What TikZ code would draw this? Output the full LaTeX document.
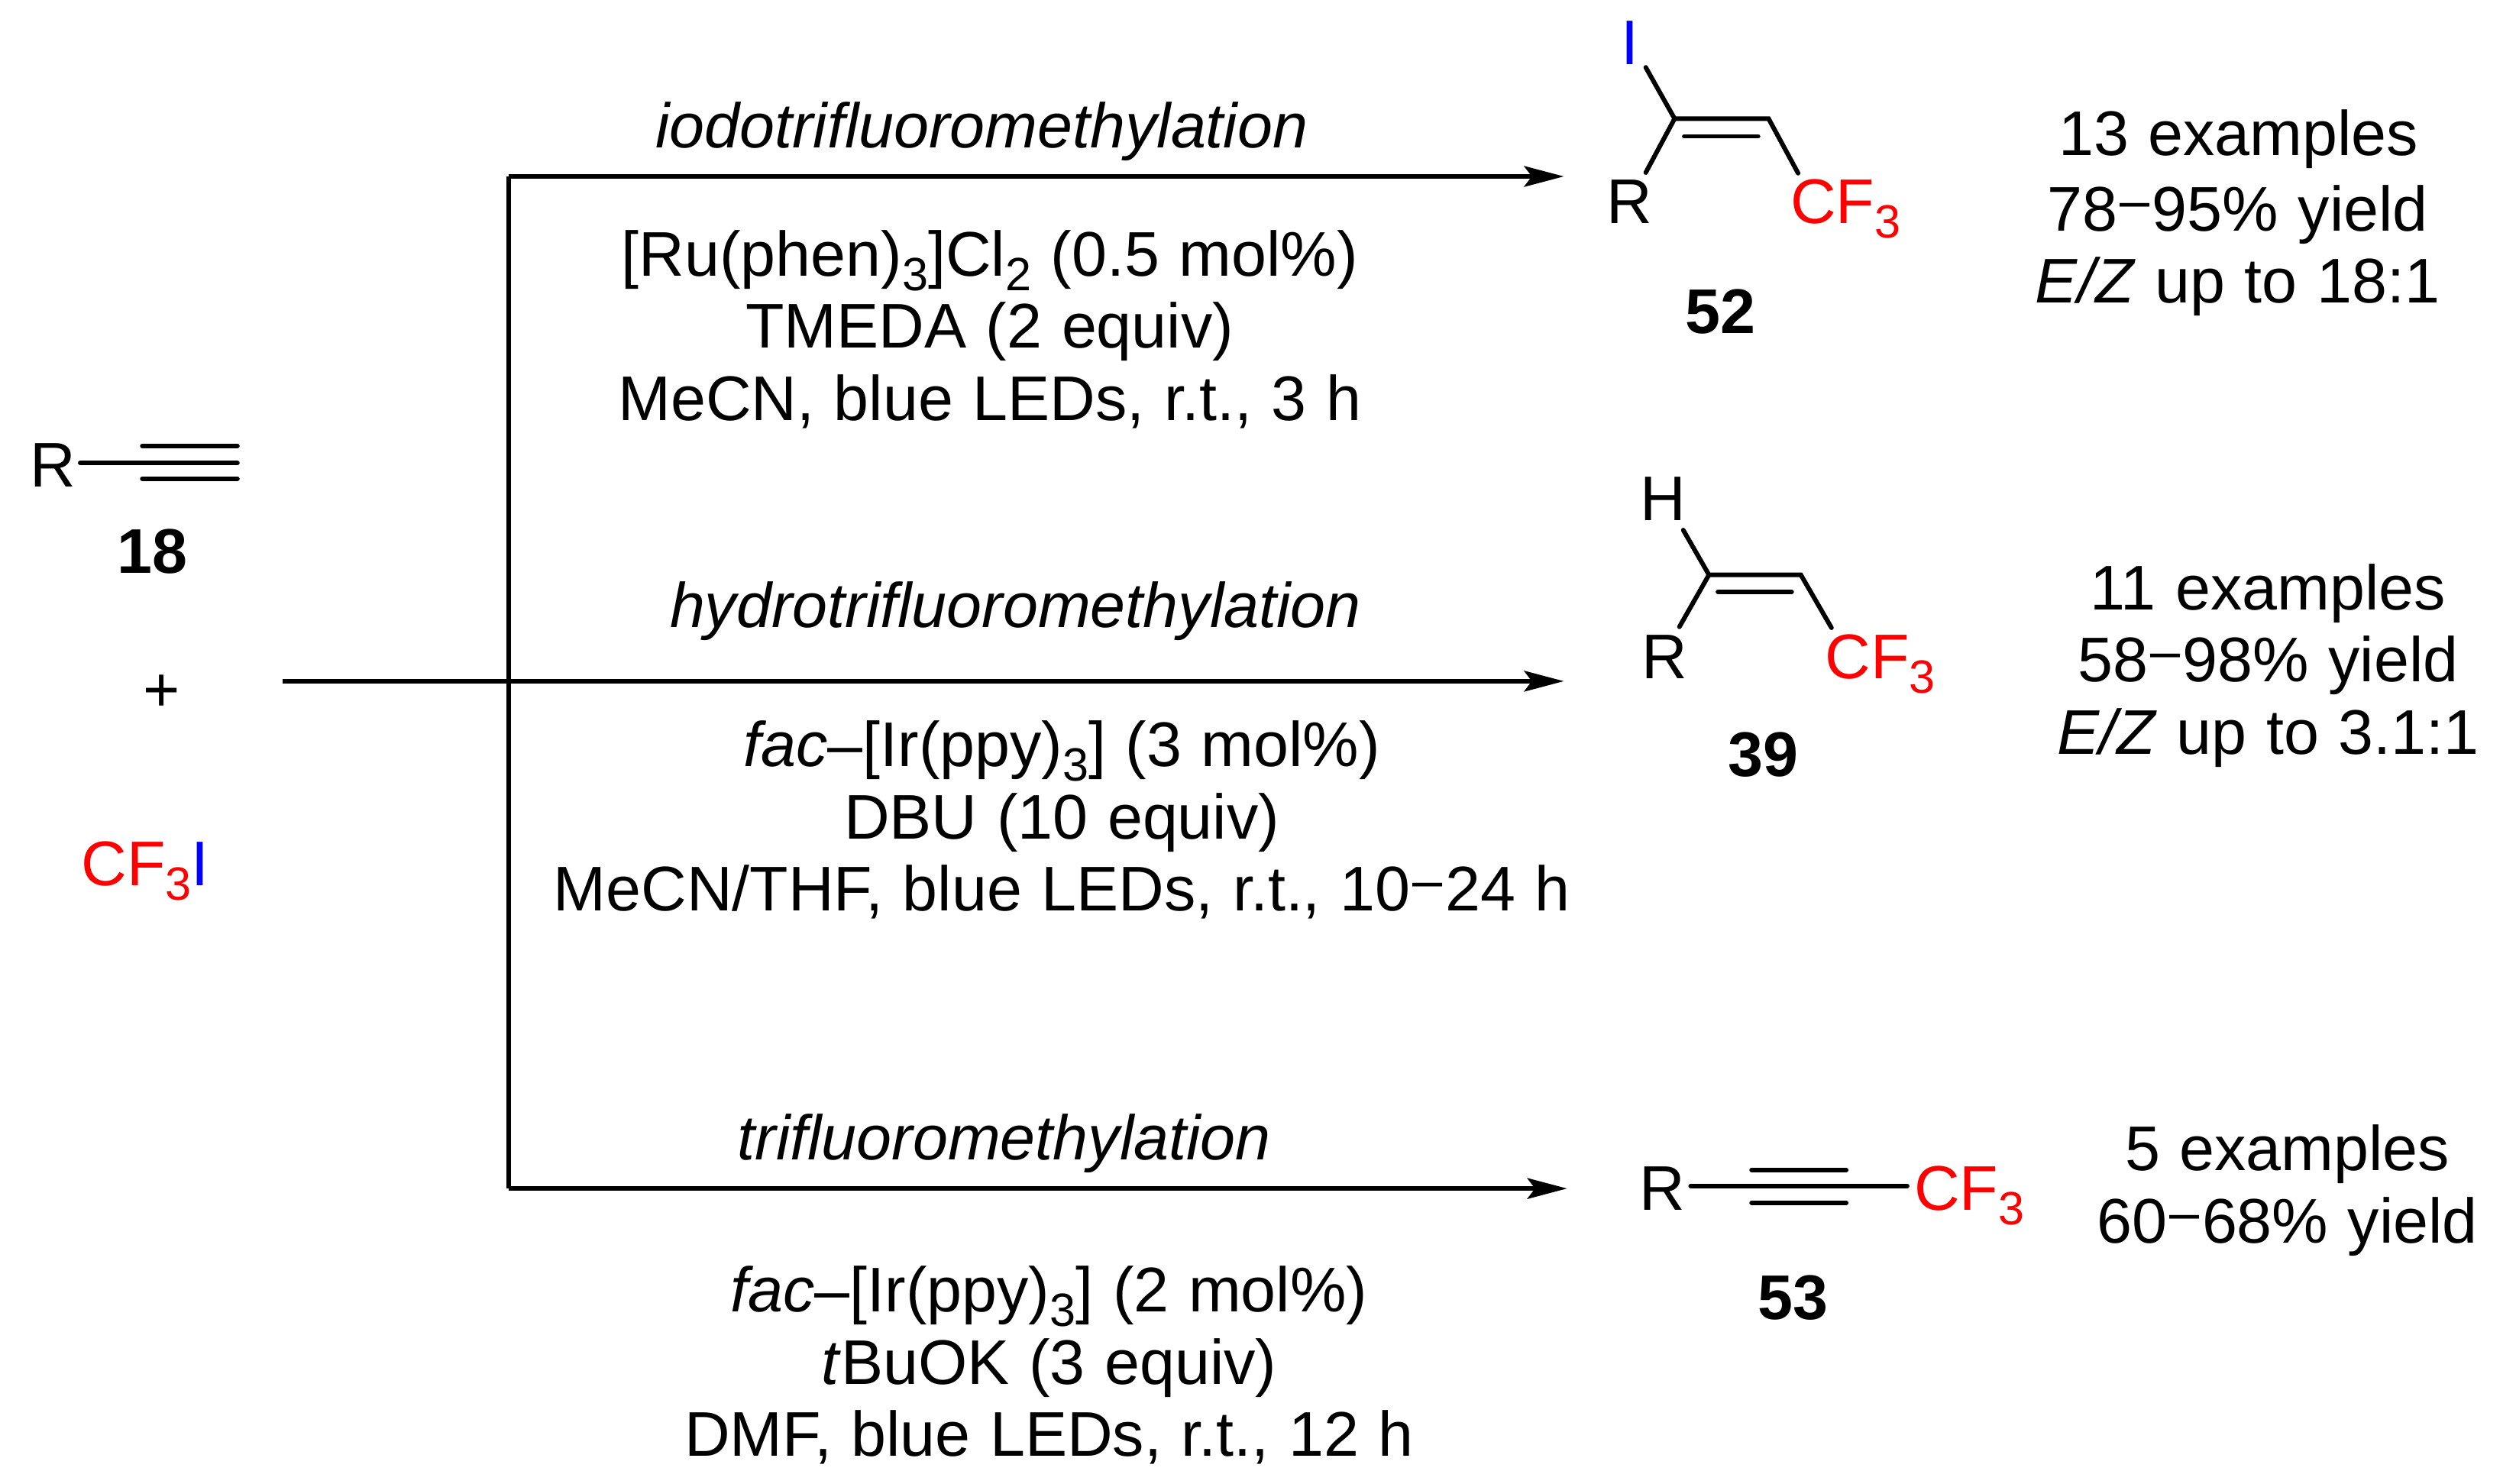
\documentclass[tikz,border=0pt]{standalone}
\usepackage{fontspec}
\setmainfont{Liberation Sans}
\usetikzlibrary{calc, arrows.meta}
\newcommand{\ssub}[1]{\raisebox{-5.4pt}{\fontsize{17.4}{17.4}\selectfont #1}}
\newcommand{\rng}{\makebox[13pt]{\raisebox{4.6pt}{\fontsize{20}{20}\selectfont –}}}
\begin{document}
\begin{tikzpicture}[x=0.021cm,y=-0.021cm]
\tikzstyle{txt}=[inner sep=0pt,anchor=base,font={\fontsize{23.5}{27}\selectfont\spaceskip 0.31em\relax}]
\tikzstyle{lefttxt}=[txt,anchor=base west]
\tikzstyle{bond}=[line width=1.7pt,line cap=round]
\tikzstyle{line}=[line width=1.7pt]
\tikzstyle{arrow}=[line,-{Stealth[length=0.52cm,width=0.27cm,inset=0.1cm]}]
\useasboundingbox (0,0) rectangle (1568.57,924.76);
% reactants
\node[txt] (R_18) at (33,303.5) {R};
\node[txt] (N_18) at (94.8,357.5) {\textbf{18}};
\node[txt] (plus) at (100.6,443.5) {+};
\node[lefttxt] (CF3I) at (50.5,552) {\textcolor{red}{CF\ssub{3}}\textcolor{blue}{I}};
\coordinate (A_0) at (50,288.6);
\coordinate (A_1) at (148,288.6);
\coordinate (A_2) at (88.7,278);
\coordinate (A_3) at (148,278);
\coordinate (A_4) at (88.7,298.4);
\coordinate (A_5) at (148,298.4);
\draw[bond] (A_0) -- (A_1);
\draw[bond] (A_2) -- (A_3);
\draw[bond] (A_4) -- (A_5);
% arrows
\coordinate (S_0) at (176,424.7);
\coordinate (T_0) at (317,110);
\coordinate (T_1) at (317,741);
\coordinate (E_52) at (975,110);
\coordinate (E_39) at (975,424.7);
\coordinate (E_53) at (977,741);
\draw[line] (E_52 -| T_0) -- (T_1);
\draw[arrow] (T_0) -- (E_52);
\draw[arrow] (S_0) -- (E_39);
\draw[arrow] (T_1) -- (E_53);
% conditions
\node[txt] (c_1) at (612,92) {\textit{iodotrifluoromethylation}};
\node[txt] (c_2) at (617,172) {[Ru(phen)\ssub{3}]Cl\ssub{2} (0.5 mol\%)};
\node[txt] (c_3) at (617,217) {TMEDA (2 equiv)};
\node[txt] (c_4) at (617,262) {MeCN, blue LEDs, r.t., 3 h};
\node[txt] (c_5) at (633,391) {\textit{hydrotrifluoromethylation}};
\node[txt] (c_6) at (662,478) {\textit{fac}–[Ir(ppy)\ssub{3}] (3 mol\%)};
\node[txt] (c_7) at (662,523) {DBU (10 equiv)};
\node[txt] (c_8) at (662,568) {MeCN/THF, blue LEDs, r.t., 10\rng24 h};
\node[txt] (c_9) at (626,723) {\textit{trifluoromethylation}};
\node[txt] (c_10) at (654,818) {\textit{fac}–[Ir(ppy)\ssub{3}] (2 mol\%)};
\node[txt] (c_11) at (654,863) {\textit{t}BuOK (3 equiv)};
\node[txt] (c_12) at (654,908) {DMF, blue LEDs, r.t., 12 h};
% product 52
\node[txt] (I_52) at (1016,40.3) {\textcolor{blue}{I}};
\node[txt] (R_52) at (1016,139.4) {R};
\node[lefttxt] (F_52) at (1116,139.4) {\textcolor{red}{CF\ssub{3}}};
\node[txt] (N_52) at (1072.5,208) {\textbf{52}};
\coordinate (B_0) at (1044,74);
\coordinate (B_1) at (1102.6,74);
\coordinate (B_2) at (1026,42);
\coordinate (B_3) at (1026,107.6);
\coordinate (B_4) at (1121,108);
\coordinate (B_5) at (1050,85);
\coordinate (B_6) at (1096,85);
\draw[bond] (B_2) -- (B_0) -- (B_1) -- (B_4);
\draw[bond] (B_0) -- (B_3);
\draw[bond] (B_5) -- (B_6);
% product 39
\node[txt] (H_39) at (1036.8,324.6) {H};
\node[txt] (R_39) at (1037.7,423) {R};
\node[lefttxt] (F_39) at (1137.5,423) {\textcolor{red}{CF\ssub{3}}};
\node[txt] (N_39) at (1099.2,484) {\textbf{39}};
\coordinate (D_0) at (1065.4,358.4);
\coordinate (D_1) at (1122.7,358.4);
\coordinate (D_2) at (1049.4,330.5);
\coordinate (D_3) at (1047,390.8);
\coordinate (D_4) at (1141.8,391.4);
\coordinate (D_5) at (1071,369);
\coordinate (D_6) at (1117,369);
\draw[bond] (D_2) -- (D_0) -- (D_1) -- (D_4);
\draw[bond] (D_0) -- (D_3);
\draw[bond] (D_5) -- (D_6);
% product 53
\node[txt] (R_53) at (1036.5,754.4) {R};
\node[lefttxt] (F_53) at (1193,754.4) {\textcolor{red}{CF\ssub{3}}};
\node[txt] (N_53) at (1117.7,822.7) {\textbf{53}};
\coordinate (G_0) at (1054,739.4);
\coordinate (G_1) at (1189,739.4);
\coordinate (G_2) at (1092,729.4);
\coordinate (G_3) at (1151,729.4);
\coordinate (G_4) at (1092,749.9);
\coordinate (G_5) at (1151,749.9);
\draw[bond] (G_0) -- (G_1);
\draw[bond] (G_2) -- (G_3);
\draw[bond] (G_4) -- (G_5);
% yields
\node[txt] (y_1) at (1395.5,97) {13 examples};
\node[txt] (y_2) at (1395,144) {78\rng95\% yield};
\node[txt] (y_3) at (1395,189) {\textit{E/Z} up to 18:1};
\node[txt] (y_4) at (1414,380) {11 examples};
\node[txt] (y_5) at (1414,425) {58\rng98\% yield};
\node[txt] (y_6) at (1414,470) {\textit{E/Z} up to 3.1:1};
\node[txt] (y_7) at (1426,729.7) {5 examples};
\node[txt] (y_8) at (1426,775) {60\rng68\% yield};
\end{tikzpicture}
\end{document}
